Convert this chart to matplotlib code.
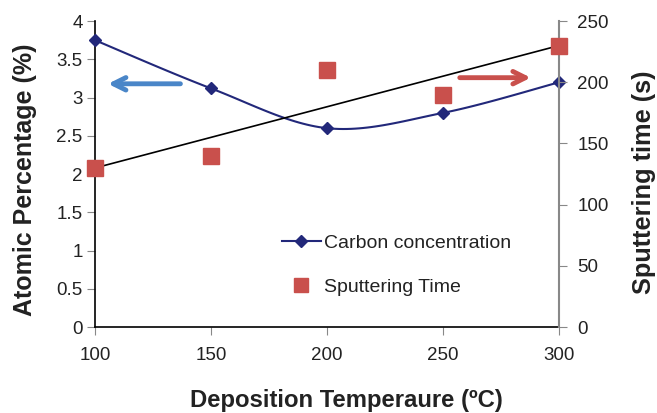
import numpy as np
import matplotlib
matplotlib.use("Agg")
import matplotlib.pyplot as plt
from matplotlib.lines import Line2D

plt.rcParams['font.family'] = ['Liberation Sans', 'DejaVu Sans']

temps = [100, 150, 200, 250, 300]
carbon = [3.75, 3.12, 2.60, 2.80, 3.20]
sputter = [130, 140, 210, 190, 230]

def catmull_rom(x, y, n=30):
    x = np.asarray(x, float); y = np.asarray(y, float)
    px = np.concatenate([[x[0]], x, [x[-1]]])
    py = np.concatenate([[y[0]], y, [y[-1]]])
    xs, ys = [], []
    for i in range(1, len(px) - 2):
        p0x, p1x, p2x, p3x = px[i-1], px[i], px[i+1], px[i+2]
        p0y, p1y, p2y, p3y = py[i-1], py[i], py[i+1], py[i+2]
        c1x = p1x + (p2x - p0x) / 6; c1y = p1y + (p2y - p0y) / 6
        c2x = p2x - (p3x - p1x) / 6; c2y = p2y - (p3y - p1y) / 6
        t = np.linspace(0, 1, n)
        bx = (1-t)**3*p1x + 3*(1-t)**2*t*c1x + 3*(1-t)*t**2*c2x + t**3*p2x
        by = (1-t)**3*p1y + 3*(1-t)**2*t*c1y + 3*(1-t)*t**2*c2y + t**3*p2y
        xs.append(bx); ys.append(by)
    return np.concatenate(xs), np.concatenate(ys)

fig = plt.figure(figsize=(6.57, 4.13), dpi=100)
ax = fig.add_axes([0.1446, 0.208, 0.7064, 0.741])
ax2 = ax.twinx()

navy = '#22287a'
red = '#c9504c'
txt = '#222222'

sx, sy = catmull_rom(temps, carbon)
ax.plot(sx, sy, color=navy, lw=1.5, zorder=3, clip_on=False)
ax.plot(temps, carbon, linestyle='none', marker='D', ms=6, color=navy, zorder=4, clip_on=False)

coef = np.polyfit(temps, sputter, 1)
tx = np.array([temps[0], temps[-1]])
ax2.plot(tx, np.polyval(coef, tx), color='black', lw=1.2, zorder=2, clip_on=False)
ax2.plot(temps, sputter, linestyle='none', marker='s', ms=11, color=red, zorder=3, clip_on=False)

ax.set_xlim(100, 300)
ax.set_ylim(0, 4)
ax2.set_ylim(0, 250)
ax.set_xticks([100, 150, 200, 250, 300])
ax.set_yticks([0, 0.5, 1, 1.5, 2, 2.5, 3, 3.5, 4])
ax.set_yticklabels(['0', '0.5', '1', '1.5', '2', '2.5', '3', '3.5', '4'])
ax2.set_yticks([0, 50, 100, 150, 200, 250])

ax.spines['top'].set_visible(False)
ax2.spines['top'].set_visible(False)
ax.spines['right'].set_visible(False)
ax2.spines['left'].set_visible(False)
ax2.spines['bottom'].set_visible(False)
ax.spines['left'].set_color('black')
ax.spines['bottom'].set_color('black')
ax.spines['left'].set_linewidth(1.2)
ax.spines['bottom'].set_linewidth(1.2)
ax2.spines['right'].set_color('#888888')
ax2.spines['right'].set_linewidth(1.5)

ax.tick_params(axis='y', direction='out', length=6, color='#888888', labelsize=13.5, pad=3, labelcolor=txt)
ax.tick_params(axis='x', direction='out', length=6, color='#888888', labelsize=13.5, pad=8, labelcolor=txt)
ax2.tick_params(axis='y', direction='out', length=6, color='#888888', labelsize=13.5, pad=7, labelcolor=txt)

ax.set_xlabel('Deposition Temperaure (ºC)', fontsize=17.2, fontweight='bold', color=txt,
              va='center', ha='center')
ax.xaxis.set_label_coords(0.541, -0.2386)
ax.set_ylabel('Atomic Percentage (%)', fontsize=18, fontweight='bold', color=txt,
              va='center', ha='center')
ax.yaxis.set_label_coords(-0.151, 0.48)
ax2.set_ylabel('Sputtering time (s)', fontsize=18.3, fontweight='bold', color=txt,
               va='center', ha='center')
ax2.yaxis.set_label_coords(1.183, 0.474)

handles = [Line2D([], [], color=navy, lw=1.5, marker='D', ms=6),
           Line2D([], [], linestyle='none', marker='s', ms=10, color=red)]
leg = ax.legend(handles, ['Carbon concentration', 'Sputtering Time'], loc='lower left',
                bbox_to_anchor=(0.365, 0.044), frameon=False, fontsize=14,
                handlelength=2.0, labelspacing=1.35, handletextpad=0.15)
for t in leg.get_texts():
    t.set_color(txt)

# arrows
ax.annotate('', xy=(0.022, 0.795), xycoords='axes fraction', xytext=(0.19, 0.795),
            arrowprops=dict(arrowstyle='->,head_length=0.9,head_width=0.45', color='#4a86c8', lw=3.5))
ax.annotate('', xy=(0.945, 0.815), xycoords='axes fraction', xytext=(0.78, 0.815),
            arrowprops=dict(arrowstyle='->,head_length=0.9,head_width=0.45', color='#c9504c', lw=3.5))

fig.savefig('out.png', dpi=100)
